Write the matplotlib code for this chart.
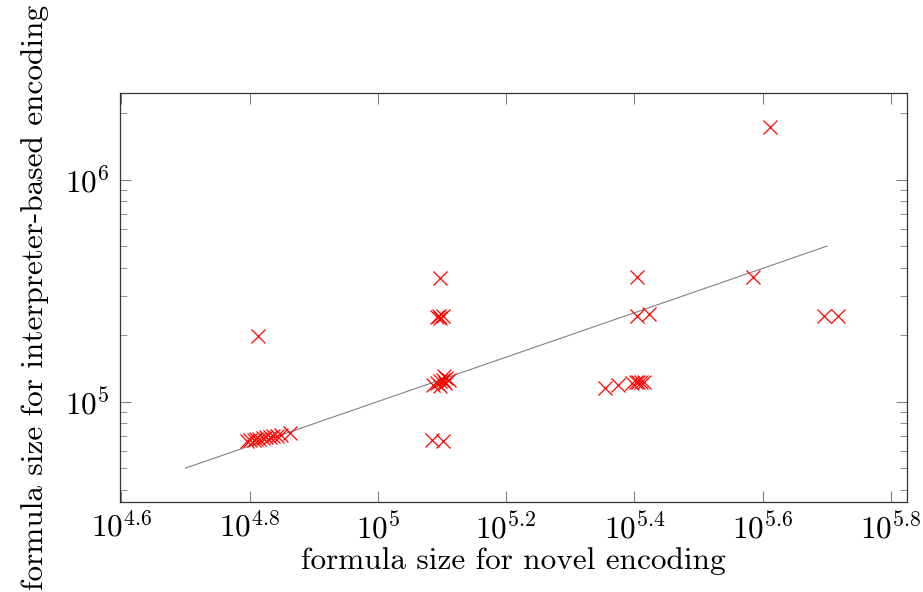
import matplotlib
matplotlib.use("Agg")
from matplotlib import pyplot as plt
from matplotlib.ticker import LogLocator, FixedLocator, NullFormatter

# formula sizes: novel encoding (x) vs interpreter-based encoding (y)
novel = [62500, 63200, 64000, 64600, 65300, 66100, 67000, 67900, 68700, 69500, 70500, 73000,
         65100,
         125100, 123800, 125100, 126400, 124600,
         122000, 123800, 125100, 126500, 127800, 127400, 129200, 126900, 125100,
         121600, 126500,
         253800, 253800, 264900,
         226200, 237100, 249300, 252900, 254700, 257400, 260200,
         384800, 409000, 496600, 522100]
interp = [66500, 67200, 67200, 67900, 67900, 68600, 69300, 69300, 70100, 70100, 70800, 72300,
          198000,
          360600, 240700, 238000, 242000, 243000,
          118900, 121400, 124000, 125300, 127900, 121400, 125300, 130600, 117700,
          67200, 66500,
          364000, 241600, 248300,
          115300, 118900, 121400, 122700, 122700, 122700, 122700,
          364000, 1726000, 243200, 243200]

diag = [10**4.7, 10**5.7]
xticks = [10**4.6, 10**4.8, 10**5.0, 10**5.2, 10**5.4, 10**5.6, 10**5.8]
xticklabels = ["$10^{4.6}$", "$10^{4.8}$", "$10^{5}$", "$10^{5.2}$", "$10^{5.4}$", "$10^{5.6}$", "$10^{5.8}$"]

plt.rcParams.update({'font.family': 'serif', 'font.serif': ['cmr10'], 'mathtext.fontset': 'cm',
                     'axes.formatter.use_mathtext': True, 'font.size': 22})

fig = plt.figure(figsize=(9.23, 5.92), dpi=100)
ax = fig.add_axes([0.1295, 0.1512, 0.8532, 0.6917])

ax.plot(diag, diag, color='#808080', linewidth=0.8, zorder=1)
ax.plot(novel, interp, linestyle='none', marker='x', color='red', markersize=10.5,
        markeredgewidth=0.9, zorder=2)

ax.set_xscale('log')
ax.set_yscale('log')
ax.set_xlim(10**4.597, 10**5.825)
ax.set_ylim(10**4.545, 10**6.39)

ax.xaxis.set_major_locator(FixedLocator(xticks))
ax.set_xticklabels(xticklabels)
ax.xaxis.set_minor_locator(FixedLocator([]))
ax.yaxis.set_major_locator(LogLocator(base=10))
ax.yaxis.set_minor_locator(LogLocator(base=10, subs=range(2, 10)))
ax.yaxis.set_minor_formatter(NullFormatter())

ax.tick_params(which='major', direction='in', length=8, width=0.8, color='#808080',
               top=True, right=True, labelsize=22.5, pad=7)
ax.tick_params(which='minor', direction='in', length=5, width=0.6, color='#808080',
               top=True, right=True)
for s in ax.spines.values():
    s.set_linewidth(0.9)
    s.set_color('#333333')

ax.set_xlabel("formula size for novel encoding", fontsize=22.5, labelpad=2)
ax.set_ylabel("formula size for interpreter-based encoding", fontsize=22.5, labelpad=12)

fig.savefig("out.png", dpi=100)
